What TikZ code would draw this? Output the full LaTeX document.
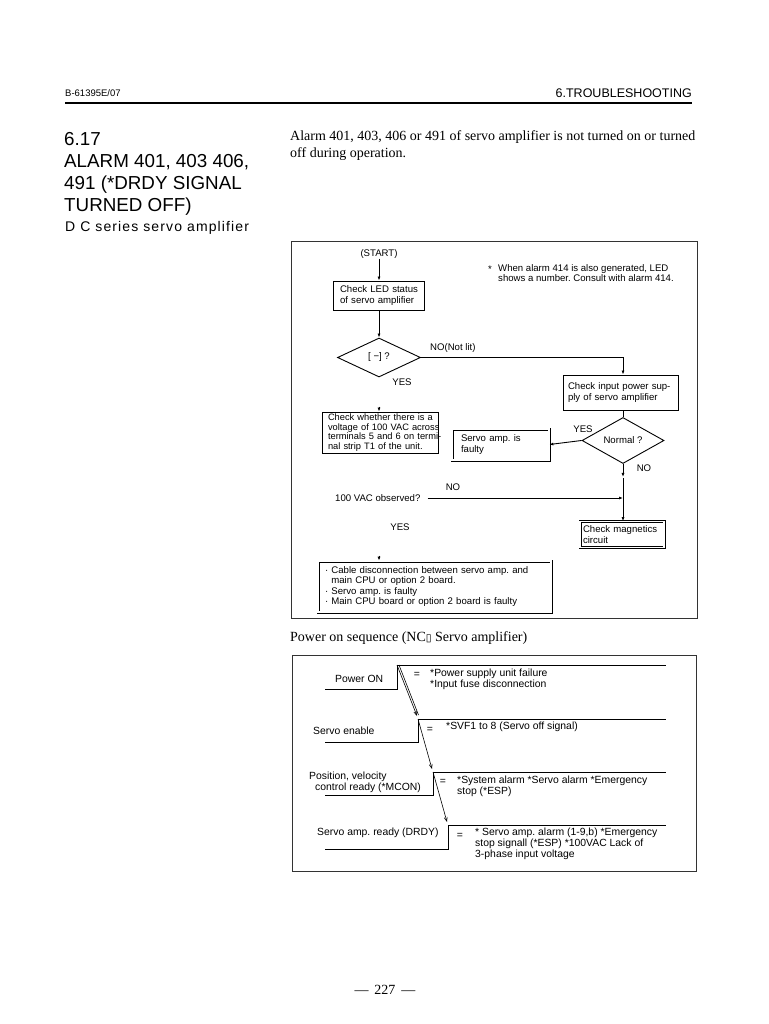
\documentclass[tikz,border=0pt]{standalone}
\usepackage{fontspec}
\setmainfont{Liberation Sans}
\newfontfamily\seriffont{Liberation Serif}
\newfontfamily\symfont{DejaVu Sans}
\usetikzlibrary{shapes.geometric,arrows.meta,calc}
\frenchspacing
\newcommand\fcfont{\fontsize{9.6}{10.4}\selectfont}
\newcommand\vfont{\fontsize{9.3}{9.4}\selectfont}
\newcommand\tdfont{\fontsize{10.4}{11}\selectfont}
\newcommand\bodyfont{\seriffont\fontsize{14}{16}\selectfont}
\newcommand\titfont{\fontsize{18.8}{22}\selectfont}
\newcommand\ml[1]{\mbox{#1}}
\begin{document}
\begin{tikzpicture}[x=1pt,y=-1pt,
  fc/.style={font=\fcfont, inner sep=0},
  td/.style={font=\tdfont, inner sep=0},
  fbox/.style={draw, line width=0.9pt, inner sep=0, align=left, font=\fcfont},
  dbox/.style={fbox, double, double distance=1.6pt, line width=0.7pt},
  dia/.style={draw, diamond, inner sep=0, line width=0.9pt, font=\fcfont},
  arr/.style={line width=0.9pt, -{Latex[length=4pt,width=3pt]}},
  ln/.style={line width=0.9pt},
  frame/.style={line width=1pt, draw=black!80},
  sig/.style={line width=1pt},
  tarr/.style={line width=0.6pt, -{Straight Barb[length=4pt,width=3pt]}},
]
\useasboundingbox[fill=white] (0,0) rectangle (768,1024);

% header
\node[anchor=west, inner sep=0, font=\fontsize{9.5}{10}\selectfont] (hdl) at (65,93) {B-61395E/07};
\node[anchor=east, inner sep=0, font=\fontsize{12.5}{13}\selectfont] (hdr) at (692,93) {6.TROUBLESHOOTING};
\draw[line width=1.6pt] (65,103) -- (692,103);

% title
\node[anchor=base west, inner sep=0, font=\titfont] (t1) at (64,146) {6.17};
\node[anchor=base west, inner sep=0, font=\titfont] (t2) at (64,168) {ALARM 401, 403 406,};
\node[anchor=base west, inner sep=0, font=\titfont] (t3) at (64,190) {491 (*DRDY SIGNAL};
\node[anchor=base west, inner sep=0, font=\titfont] (t4) at (64,212) {TURNED OFF)};
\node[anchor=base west, inner sep=0, font=\fontsize{14}{16}\selectfont\addfontfeature{LetterSpace=8}] (t5) at (65,232) {D C series servo amplifier};

% body
\node[anchor=base west, inner sep=0, font=\bodyfont] (b1) at (290,141) {Alarm 401, 403, 406 or 491 of servo amplifier is not turned on or turned};
\node[anchor=base west, inner sep=0, font=\bodyfont] (b2) at (290,158) {off during operation.};

% flowchart frame
\draw[frame] (291,241) rectangle (697,618);

\node[fc] (start) at (379,254) {(START)};
\node[fbox, minimum width=91, minimum height=29, text width=78] (led) at (379,295.5) {\ml{Check LED status}\\\ml{of servo amplifier}};
\node[dia, minimum width=83, minimum height=39] (d1) at (379,357.5) {[ −] ?};
\node[fbox, minimum width=115, minimum height=35, text width=106] (power) at (621,392.5) {\ml{Check input power sup-}\\\ml{ply of servo amplifier}};
\node[dia, minimum width=82, minimum height=41] (d2) at (623,440.5) {Normal ?};
\node[fbox, font=\vfont, minimum width=116, minimum height=41, text width=104] (volt) at (380,432.5) {\ml{Check whether there is a}\\\ml{voltage of 100 VAC across}\\\ml{terminals 5 and 6 on termi-}\\\ml{nal strip T1 of the unit.}};
\node[dbox, minimum width=97, minimum height=31, text width=79] (faulty) at (500.5,444.5) {\ml{Servo amp. is}\\\ml{faulty}};
\node[dbox, minimum width=84, minimum height=26, text width=78] (magn) at (622,534.5) {\ml{Check magnetics}\\\ml{circuit}};
\node[dbox, minimum width=233, minimum height=51, text width=219] (res) at (434.5,586.5) {\ml{· Cable disconnection between servo amp. and}\\\ml{\phantom{· }main CPU or option 2 board.}\\\ml{· Servo amp. is faulty}\\\ml{· Main CPU board or option 2 board is faulty}};

\node[fc] (star) at (490,269) {*};
\node[fc, anchor=north west, align=left] (note) at (498,264) {When alarm 414 is also generated, LED\\shows a number. Consult with alarm 414.};

\node[fc] (yes1) at (402,382) {YES};
\node[fc, anchor=west] (nonl) at (430,348) {NO(Not lit)};
\node[fc] (yes2) at (583,429) {YES};
\node[fc] (no2) at (644,468) {NO};
\node[fc] (no3) at (453,487) {NO};
\node[fc] (yes3) at (400,527) {YES};
\node[fc, anchor=west] (obs) at (335,498) {100 VAC observed?};

\draw[arr] (start.south) -- (led.north);
\draw[arr] (led.south) -- (d1.north);
\draw[arr] (d1.east) -| (d2.north |- power.north);
\draw[ln] (d2.north |- power.south) -- (d2.north);
\draw[arr] (d2.west) -- (faulty.east);
\draw[arr] (d2.south) -- ++(0,13) coordinate (d2s);
\coordinate (j1) at (623,478);
\coordinate (j2) at (623,498);
\draw[ln] (j1) -- (j2);
\draw[arr] ($(obs.east)+(7,0)$) -- (j2);
\draw[arr] (j2) -- (d2.south |- magn.north);
\draw[arr] ($(d1.south |- volt.north)+(0,-5)$) -- (d1.south |- volt.north);
\draw[arr] ($(d1.south |- res.north)+(0,-5)$) -- (d1.south |- res.north);

% power on sequence
\node[anchor=base west, inner sep=0, font=\bodyfont] (pos) at (290,641) {Power on sequence (NC{\symfont\fontsize{10.5}{12}\selectfont ▯} Servo amplifier)};

\draw[frame] (292,655) rectangle (696,871);

% signals
\coordinate (p1) at (397,665);
\coordinate (p2) at (418,719);
\coordinate (p3) at (433,772);
\coordinate (p4) at (448,825);
\draw[sig] (325,689) -| (p1) -- (666,665);
\draw[sig] (325,742) -| (p2) -- (666,719);
\draw[sig] (325,795) -| (p3) -- (666,772);
\draw[sig] (325,849) -| (p4) -- (666,825);

\draw[tarr] (p1) -- ($(p2)+(-1,-3)$);
\draw[line width=0.6pt] ($(p1)+(2,0)$) -- ($(p2)+(0.5,-4)$);
\draw[tarr] (p2) -- ($(p3)+(-1,-3)$);
\draw[tarr] (p3) -- ($(p4)+(-1,-3)$);

\node[td, anchor=west] (s1) at (335,679) {Power ON};
\node[td, anchor=west] (s2) at (313,731) {Servo enable};
\node[td, anchor=west] (s3a) at (309,777) {Position, velocity};
\node[td, anchor=west] (s3b) at (315,788) {control ready (*MCON)};
\node[td, anchor=west] (s4) at (317,833) {Servo amp. ready (DRDY)};

\node[td] (e1) at (417,675) {=};
\node[td] (e2) at (430,730) {=};
\node[td] (e3) at (443,782) {=};
\node[td] (e4) at (460,836) {=};

\node[td, anchor=north west, align=left] (c1) at (430,669) {*Power supply unit failure\\*Input fuse disconnection};
\node[td, anchor=west] (c2) at (446,727) {*SVF1 to 8 (Servo off signal)};
\node[td, anchor=north west, align=left] (c3) at (457,776) {*System alarm *Servo alarm *Emergency\\stop (*ESP)};
\node[td, anchor=north west, align=left] (c4) at (475,828) {* Servo amp. alarm (1-9,b) *Emergency\\stop signall (*ESP) *100VAC Lack of\\3-phase input voltage};

% page number
\node[font=\bodyfont, inner sep=0] (pg) at (385,990) {— \,227\, —};
\end{tikzpicture}
\end{document}
